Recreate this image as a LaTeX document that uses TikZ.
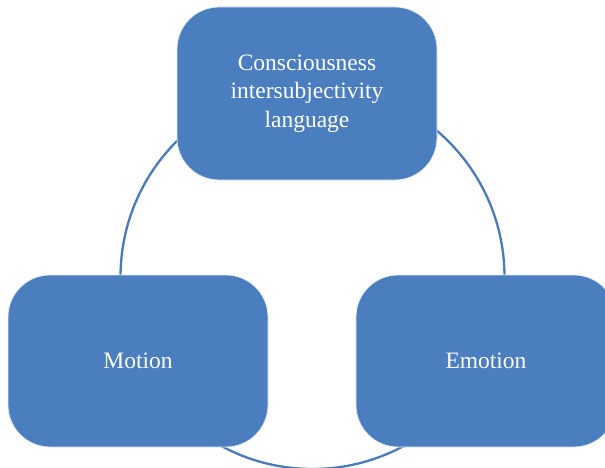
\documentclass[tikz,border=0pt]{standalone}
\usepackage{fontspec}
\setmainfont{Liberation Serif}
\definecolor{boxblue}{RGB}{74,126,191}
\definecolor{ringblue}{RGB}{72,122,188}
\begin{document}
\begin{tikzpicture}[x=1pt,y=-1pt,
  blockbox/.style={draw=white!85!boxblue, line width=0.8pt, fill=boxblue, rounded corners=42pt,
    minimum width=260pt, minimum height=172pt, inner sep=0pt, text=white,
    font=\fontsize{23.5}{28.5}\selectfont, align=center}]
\useasboundingbox (0,0) rectangle (605,468);
\clip (0,0) rectangle (605,468);
\coordinate (ringc) at (312.5,277);
\draw[ringblue, line width=2.3pt] (ringc) circle[radius=192];
\node[blockbox, minimum height=173pt] (top) at (307,93.5) {Consciousness\\intersubjectivity\\language};
\node[blockbox] (motion) at (138,361) {Motion};
\node[blockbox] (emotion) at (486,361) {Emotion};
\end{tikzpicture}
\end{document}
